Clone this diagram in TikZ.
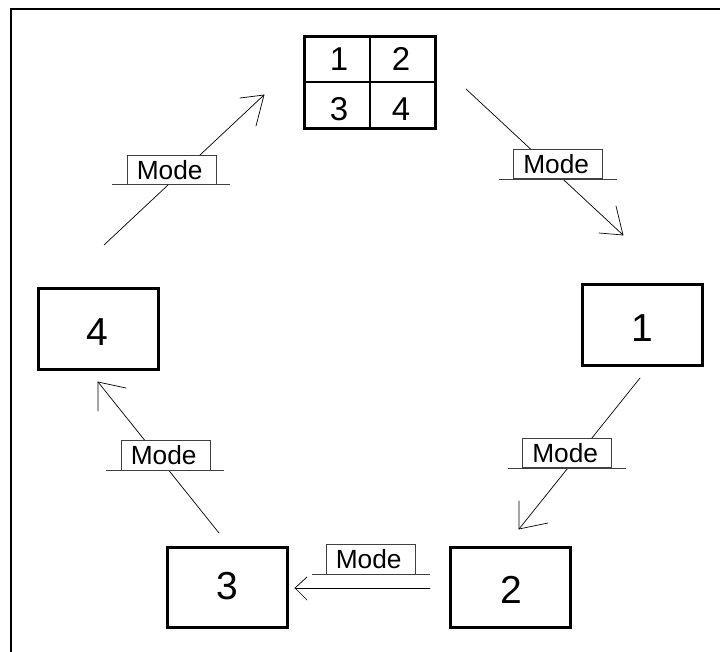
\documentclass[tikz,border=0pt]{standalone}
\usepackage{fontspec}
\setmainfont{Liberation Sans}
\newcommand{\modetext}{\raisebox{1pt}{\kern-3.6pt Mode}}
\tikzset{
  screen/.style={draw=black,line width=3pt,fill=white,inner sep=0pt,minimum width=120pt,minimum height=80pt},
  bigdigit/.style={inner sep=0pt,font=\fontsize{39}{42}\selectfont},
  cell/.style={inner sep=0pt,font=\fontsize{33}{36}\selectfont},
  modebox/.style={draw=black!75,line width=0.9pt,fill=white,inner sep=0pt,minimum width=89pt,minimum height=29.5pt,font=\fontsize{26.3}{29}\selectfont},
  baseline rule/.style={draw=black!75,line width=0.9pt},
  flow/.style={draw=black,line width=0.7pt,line cap=round}
}
\begin{document}
\begin{tikzpicture}[x=1pt,y=-1pt]
\useasboundingbox (0,0) rectangle (720,652);
\fill[white] (0,0) rectangle (720,652);
\draw[black,line width=2pt] (11,652) -- (11,9) -- (720,9);
% connectors
\coordinate (a1s) at (466,89); \coordinate (a1e) at (623,235);
\coordinate (a1l) at (616,206); \coordinate (a1r) at (599,233);
\coordinate (a2s) at (640,378); \coordinate (a2e) at (519,529);
\coordinate (a2l) at (519,501); \coordinate (a2r) at (548,523);
\coordinate (a3s) at (430,588); \coordinate (a3e) at (295,588);
\coordinate (a3l) at (307,577); \coordinate (a3r) at (307,600);
\coordinate (a4s) at (219,533); \coordinate (a4e) at (98,382);
\coordinate (a4l) at (98,411); \coordinate (a4r) at (126,388);
\coordinate (a5s) at (104,245); \coordinate (a5e) at (264,95);
\coordinate (a5l) at (240,98); \coordinate (a5r) at (256,126);
\foreach \n in {1,...,5}{
  \draw[flow] (a\n s) -- (a\n e);
  \draw[flow] (a\n l) -- (a\n e) -- (a\n r);
}
% screens
\node[screen] (s1) at (642.3,325) {};
\node[screen] (s2) at (510.5,587) {};
\node[screen] (s3) at (227.7,587) {};
\node[screen] (s4) at (98.5,329) {};
\node[bigdigit] (d1) at (642,328) {1};
\node[bigdigit] (d2) at (511,590) {2};
\node[bigdigit] (d3) at (227,586) {3};
\node[bigdigit] (d4) at (97,332) {4};
% quad view
\draw[black,line width=3pt] (304,37) rectangle (435.5,128.5);
\draw[black,line width=2.2pt] (369.8,37) -- (369.8,128.5) (304,82) -- (435.5,82);
\node[cell] (c1) at (339,59) {1};
\node[cell] (c2) at (401,59) {2};
\node[cell] (c3) at (339,109) {3};
\node[cell] (c4) at (401,109) {4};
% mode labels
\node[modebox] (m1) at (558,164) {\modetext};
\node[modebox] (m2) at (567,453) {\modetext};
\node[modebox] (m3) at (370.5,559.3) {\modetext};
\node[modebox] (m4) at (165.5,455.2) {\modetext};
\node[modebox] (m5) at (171.5,170) {\modetext};
\draw[baseline rule] (499,179) -- (617,179);
\draw[baseline rule] (508,468) -- (626,468);
\draw[baseline rule] (312,574.5) -- (430,574.5);
\draw[baseline rule] (106,470) -- (224,470);
\draw[baseline rule] (112,184.7) -- (230,184.7);
\end{tikzpicture}
\end{document}
